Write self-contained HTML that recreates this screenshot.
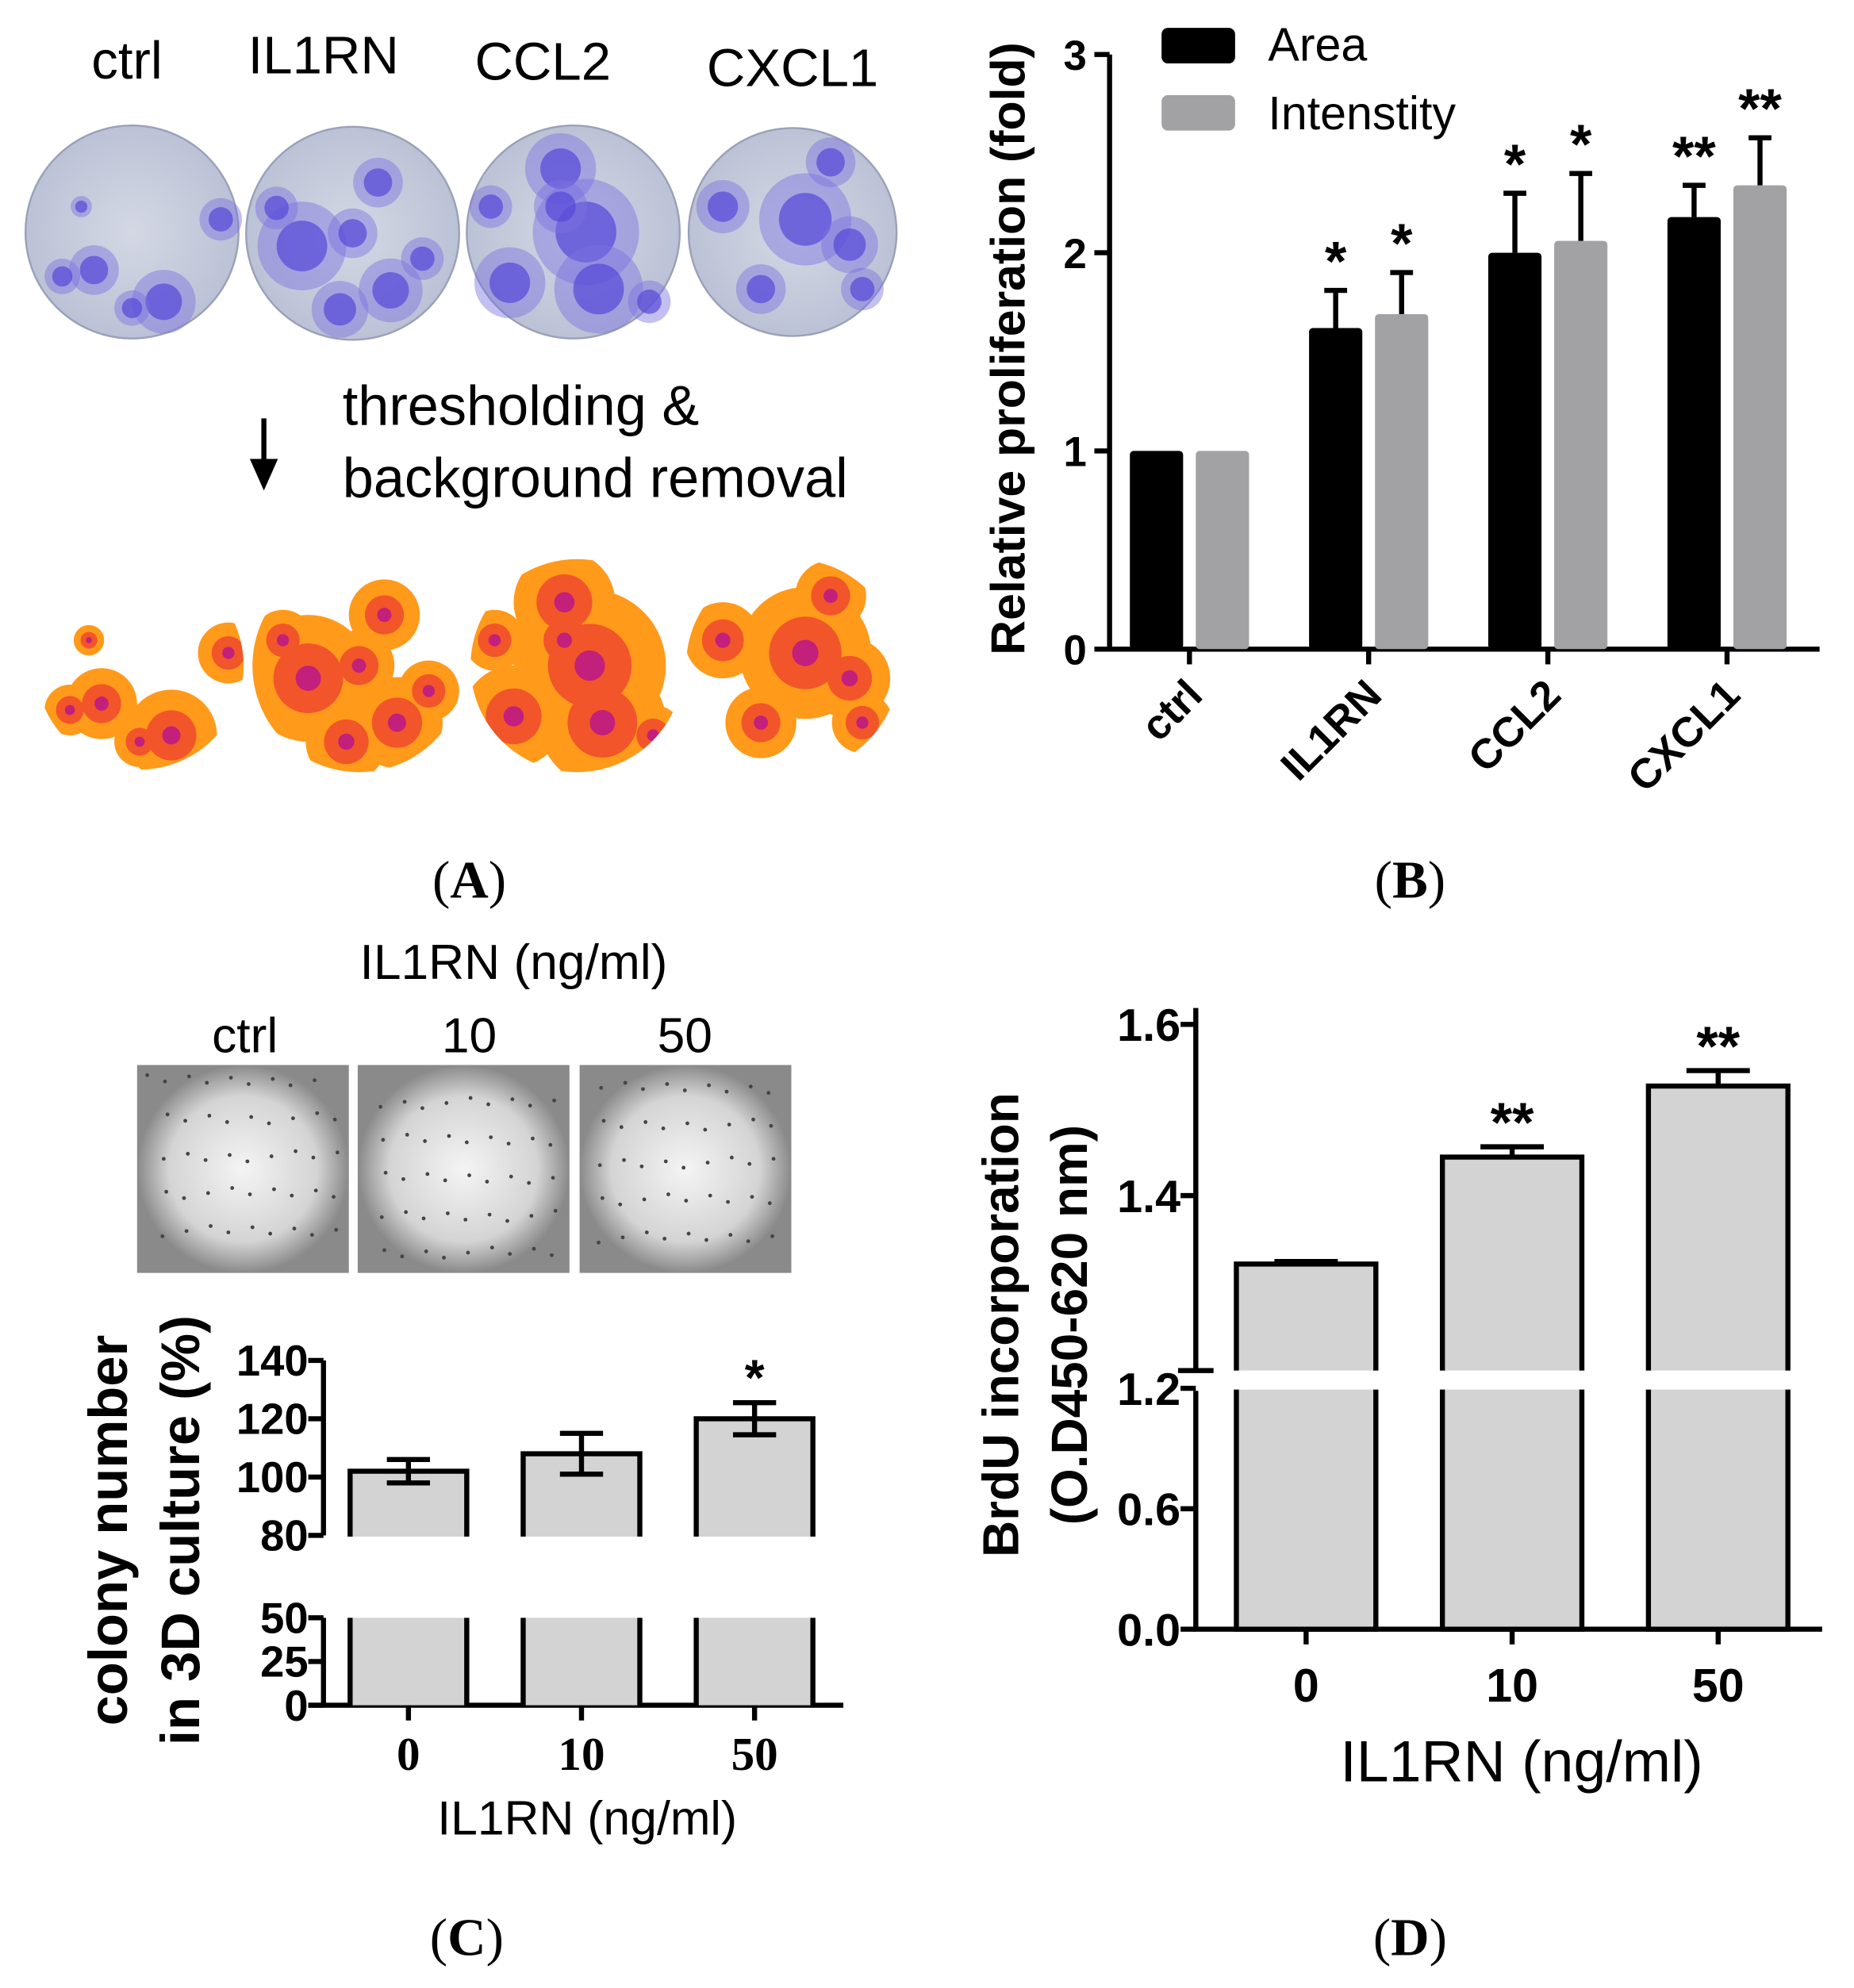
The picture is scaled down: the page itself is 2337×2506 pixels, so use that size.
<!DOCTYPE html>
<html><head><meta charset="utf-8"><style>
html,body{margin:0;padding:0;background:#fff}
svg{display:block}
</style></head><body>
<svg id="fig" width="2337" height="2506" viewBox="0 0 1462 1568" xmlns="http://www.w3.org/2000/svg" font-family="Liberation Sans, sans-serif">
<defs>
<radialGradient id="plateG" cx="50%" cy="50%" r="50%"><stop offset="0" stop-color="#d4d8e4"/><stop offset="1" stop-color="#bcc2d6"/></radialGradient>
<radialGradient id="softG" cx="50%" cy="50%" r="50%"><stop offset="0" stop-color="#f4f4f4"/><stop offset="0.7" stop-color="#d4d4d4"/><stop offset="1" stop-color="#8a8a8a"/></radialGradient>
</defs>
<g id="panelA"></g>
<g id="panelB"></g>
<g id="panelC"></g>
<g id="panelD"></g>
<text x="370" y="708" style="font-family:'Liberation Serif',serif" font-size="42" text-anchor="middle">(<tspan font-weight="bold">A</tspan>)</text>
<text x="1112" y="708" style="font-family:'Liberation Serif',serif" font-size="42" text-anchor="middle">(<tspan font-weight="bold">B</tspan>)</text>
<text x="368" y="1542" style="font-family:'Liberation Serif',serif" font-size="42" text-anchor="middle">(<tspan font-weight="bold">C</tspan>)</text>
<text x="1112" y="1542" style="font-family:'Liberation Serif',serif" font-size="42" text-anchor="middle">(<tspan font-weight="bold">D</tspan>)</text>
</svg>
<script>
const NS="http://www.w3.org/2000/svg";
function mk(parent,tag,attrs,txt){const e=document.createElementNS(NS,tag);for(const k in attrs)e.setAttribute(k,attrs[k]);if(txt!==undefined)e.textContent=txt;parent.appendChild(e);return e;}

// ---------- Panel B data ----------
const bCategories=["ctrl","IL1RN","CCL2","CXCL1"];
const bArea=[1,1.62,2.0,2.18];
const bAreaErr=[0,0.19,0.3,0.16];
const bInt=[1,1.69,2.06,2.34];
const bIntErr=[0,0.21,0.34,0.24];
const bAreaSig=["","*","*","**"];
const bIntSig=["","*","*","**"];
const bTicks=[0,1,2,3];

// ---------- Panel C data ----------
const cCategories=["0","10","50"];
const cValues=[102,108,120];
const cErr=[4,7,5.5];
const cSig=["","","*"];
const cTicksUpper=[80,100,120,140];
const cTicksLower=[0,25,50];

// ---------- Panel D data ----------
const dCategories=["0","10","50"];
const dValues=[1.32,1.445,1.528];
const dErr=[0.003,0.012,0.018];
const dSig=["","**","**"];
const dTicksUpper=[1.4,1.6];
const dTicksLower=[0.0,0.6,1.2];

// ===== Panel A =====
(function(){
 const g=document.getElementById('panelA');
 const labels=[["ctrl",100,62],["IL1RN",255,58],["CCL2",428,63],["CXCL1",625,68]];
 labels.forEach(l=>{const t=mk(g,'text',{x:l[1],y:l[2],'font-size':42,'text-anchor':'middle'},l[0]);
 
 });
 const centers=[[104,183,84],[278,184,84],[452,183,84],[625,183,82]];
 const blobs=[
  [[-30,30,14],[-40,-20,6],[25,55,18],[0,60,10],[70,-10,12],[-55,35,10]],
  [[-40,10,25],[20,-40,14],[30,45,18],[-10,60,16],[55,20,12],[-60,-20,12],[0,0,14]],
  [[-10,-50,20],[10,0,30],[20,45,25],[-50,40,20],[-10,-20,15],[60,55,12],[-65,-20,12]],
  [[10,-10,26],[-25,45,14],[45,10,16],[30,-55,14],[-55,-20,15],[55,45,12]]];
 centers.forEach((c,i)=>{
  const p=mk(g,'circle',{cx:c[0],cy:c[1],r:c[2],fill:'url(#plateG)',stroke:'#9aa0b8','stroke-width':1.5});
  
  
  blobs[i].forEach(b=>{mk(g,'circle',{cx:c[0]+b[0],cy:c[1]+b[1],r:b[2]*1.4,fill:'#7a70e0',opacity:0.45});mk(g,'circle',{cx:c[0]+b[0],cy:c[1]+b[1],r:b[2]*0.8,fill:'#5548d8',opacity:0.7});});
 });
 const ar=mk(g,'path',{d:'M208 330 V372 M200 364 L208 382 L216 364 Z',stroke:'#000','stroke-width':4,fill:'#000'});
 
 
 const t1=mk(g,'text',{x:270,y:335,'font-size':44},'thresholding &');
 
 
 const t2=mk(g,'text',{x:270,y:392,'font-size':44},'background removal');
 
 
 const cy2=525;
 const tc=[[110,cy2,82],[283,cy2,84],[455,cy2,84],[625,cy2,84]];
 tc.forEach((c,i)=>{
  const cl='clipT'+i;
  const cp=mk(g,'clipPath',{id:cl});mk(cp,'circle',{cx:c[0],cy:c[1],r:c[2]});
  const gg=mk(g,'g',{'clip-path':'url(#'+cl+')'});
  
  
  blobs[i].forEach(b=>{mk(gg,'circle',{cx:c[0]+b[0],cy:c[1]+b[1],r:b[2]*2.0,fill:'#ff9a1a'});});
  blobs[i].forEach(b=>{mk(gg,'circle',{cx:c[0]+b[0],cy:c[1]+b[1],r:b[2]*1.1,fill:'#f2552a'});});
  blobs[i].forEach(b=>{mk(gg,'circle',{cx:c[0]+b[0],cy:c[1]+b[1],r:b[2]*0.4,fill:'#c2207a'});});
 });
})();

// ===== Panel B =====
(function(){
 const g=document.getElementById('panelB');
 const x0=875,xEnd=1435,y0=512,yTop=43,vmax=3;
 const Y=v=>y0-(v/vmax)*(y0-yTop);
 const centers=[938,1081,1222,1362];
 const X=i=>centers[0]+i*((centers[3]-centers[0])/3);
 const bw=42;
 const ax=mk(g,'path',{d:`M${x0} ${yTop} V${y0} H${xEnd}`,stroke:'#000','stroke-width':4,fill:'none'});
 
 
 bTicks.forEach(v=>{mk(g,'line',{x1:x0-12,x2:x0,y1:Y(v),y2:Y(v),stroke:'#000','stroke-width':4});
  const t=mk(g,'text',{x:x0-18,y:Y(v)+12,'font-size':33,'font-weight':'bold','text-anchor':'end'},String(v));
  
  });
 bCategories.forEach((c,i)=>{
  const cx=X(i);
  mk(g,'line',{x1:cx,x2:cx,y1:y0,y2:y0+12,stroke:'#000','stroke-width':4});
  const t=mk(g,'text',{x:0,y:0,'font-size':33,'font-weight':'bold','text-anchor':'end',transform:`translate(${cx+12},${y0+38}) rotate(-45)`},c);
  
  
  [[bArea,bAreaErr,bAreaSig,'#000',-bw/2-5,'area'],[bInt,bIntErr,bIntSig,'#a2a2a5',bw/2+5,'intensity']].forEach(s=>{
   const v=s[0][i],bx=cx+s[4]-bw/2;
   const r=mk(g,'rect',{x:bx,y:Y(v),width:bw,height:y0-Y(v),fill:s[3],rx:3});
   
   
   if(s[1][i]>0){const e=Y(v+s[1][i]);mk(g,'path',{d:`M${bx+bw/2} ${Y(v)} V${e} M${bx+bw/2-9} ${e} H${bx+bw/2+9}`,stroke:'#000','stroke-width':4,fill:'none'});}
   if(s[2][i]){const t2=mk(g,'text',{x:bx+bw/2,y:Y(v+s[1][i])-8,'font-size':44,'font-weight':'bold','text-anchor':'middle'},s[2][i]);
    
    }
  });
 });
 const yl=mk(g,'text',{x:0,y:0,'font-size':38,'font-weight':'bold','text-anchor':'middle',transform:'translate(808,275) rotate(-90)'},'Relative proliferation (fold)');
 
 
 const l1=mk(g,'rect',{x:916,y:22,width:58,height:28,rx:5,fill:'#000'});
 
 
 const l2=mk(g,'rect',{x:916,y:75,width:58,height:28,rx:5,fill:'#a2a2a5'});
 
 
 const lt1=mk(g,'text',{x:1000,y:48,'font-size':37},'Area');
 
 
 const lt2=mk(g,'text',{x:1000,y:102,'font-size':37},'Intenstity');
 
 
})();

// ===== Panel C =====
(function(){
 const g=document.getElementById('panelC');
 const tt=mk(g,'text',{x:405,y:772,'font-size':39,'text-anchor':'middle'},'IL1RN (ng/ml)');
 
 
 [["ctrl",193],["10",370],["50",540]].forEach(l=>{const t=mk(g,'text',{x:l[1],y:830,'font-size':39,'text-anchor':'middle'},l[0]);
  
  });
 [108,282,457].forEach((x,i)=>{const r=mk(g,'rect',{x:x,y:840,width:167,height:164,fill:'url(#softG)'});
  
  
  for(let k=0;k<45;k++){mk(g,'circle',{cx:x+8+((k*67+i*31)%151),cy:848+((k*89+i*47)%148),r:1.5,fill:'#444'});}
 });
 const xa=255,xEnd=665;
 const Yu=v=>1211-(v-80)/60*(1211-1073);
 const Yl=v=>1345-v/50*(1345-1276);
 const ax=mk(g,'path',{d:`M${xa} 1073 V1211 M${xa} 1276 V1345 M243 1345 H${xEnd}`,stroke:'#000','stroke-width':4,fill:'none'});
 
 
 const narrow='font-family:"Liberation Sans Narrow","Liberation Sans",sans-serif';
 cTicksUpper.forEach(v=>{mk(g,'line',{x1:xa-12,x2:xa,y1:Yu(v),y2:Yu(v),stroke:'#000','stroke-width':4});
  const t=mk(g,'text',{x:xa-12,y:Yu(v)+12,'font-size':34,'font-weight':'bold','text-anchor':'end',style:narrow},String(v));
  
  });
 cTicksLower.forEach(v=>{mk(g,'line',{x1:xa-12,x2:xa,y1:Yl(v),y2:Yl(v),stroke:'#000','stroke-width':4});
  const t=mk(g,'text',{x:xa-12,y:Yl(v)+12,'font-size':34,'font-weight':'bold','text-anchor':'end',style:narrow},String(v));
  
  });
 const centers=[322,460,595];const bw=92;
 cCategories.forEach((c,i)=>{
  const cx=centers[0]+i*((centers[2]-centers[0])/2);
  const v=cValues[i];
  const r=mk(g,'rect',{x:cx-bw/2,y:Yu(v),width:bw,height:1212-Yu(v),fill:'#d3d3d3'});
  
  
  mk(g,'path',{d:`M${cx-bw/2} 1212 V${Yu(v)} H${cx+bw/2} V1212`,stroke:'#000','stroke-width':4,fill:'none'});
  const r2=mk(g,'rect',{x:cx-bw/2,y:1276,width:bw,height:69,fill:'#d3d3d3'});
  
  
  mk(g,'path',{d:`M${cx-bw/2} 1276 V1345 M${cx+bw/2} 1276 V1345`,stroke:'#000','stroke-width':4,fill:'none'});
  const e1=Yu(v+cErr[i]),e2=Yu(v-cErr[i]);
  mk(g,'path',{d:`M${cx} ${e1} V${e2} M${cx-17} ${e1} H${cx+17} M${cx-17} ${e2} H${cx+17}`,stroke:'#000','stroke-width':4,fill:'none'});
  if(cSig[i]){const s=mk(g,'text',{x:cx,y:e1-6,'font-size':40,'font-weight':'bold','text-anchor':'middle'},cSig[i]);
   
   }
  mk(g,'line',{x1:cx,x2:cx,y1:1345,y2:1357,stroke:'#000','stroke-width':4});
  const t=mk(g,'text',{x:cx,y:1396,'font-size':37,'font-weight':'bold','text-anchor':'middle',style:"font-family:'Liberation Serif',serif"},c);
  
  
 });
 const xt=mk(g,'text',{x:463,y:1447,'font-size':38,'text-anchor':'middle'},'IL1RN (ng/ml)');
 
 
 const y1=mk(g,'text',{x:0,y:0,'font-size':43,'font-weight':'bold','text-anchor':'middle',transform:'translate(100,1207) rotate(-90)'},'colony number');
 
 
 const y2=mk(g,'text',{x:0,y:0,'font-size':43,'font-weight':'bold','text-anchor':'middle',transform:'translate(157,1207) rotate(-90)'},'in 3D culture (%)');
 
 
})();

// ===== Panel D =====
(function(){
 const g=document.getElementById('panelD');
 const xa=943,xEnd=1437,y0=1285;
 const Yu=v=>808+(1.6-v)/0.2*135;
 const Yl=v=>y0-v/0.6*95;
 const Y=v=>v>=1.21?Yu(v):Yl(v);
 const ax=mk(g,'path',{d:`M${xa} 795 V1081 M${xa} 1097 V${y0} H${xEnd}`,stroke:'#000','stroke-width':4,fill:'none'});
 
 
 dTicksUpper.forEach(v=>{mk(g,'line',{x1:xa-12,x2:xa,y1:Yu(v),y2:Yu(v),stroke:'#000','stroke-width':4});
  const t=mk(g,'text',{x:xa-12,y:Yu(v)+13,'font-size':36,'font-weight':'bold','text-anchor':'end'},v.toFixed(1));
  
  });
 dTicksLower.forEach(v=>{mk(g,'line',{x1:xa-12,x2:xa,y1:Yl(v),y2:Yl(v),stroke:'#000','stroke-width':4});
  const t=mk(g,'text',{x:xa-12,y:Yl(v)+13,'font-size':36,'font-weight':'bold','text-anchor':'end'},v.toFixed(1));
  
  });
 mk(g,'line',{x1:xa-14,x2:xa+14,y1:1081,y2:1081,stroke:'#000','stroke-width':4});
 const centers=[1030,1192,1355];const bw=110;
 dCategories.forEach((c,i)=>{
  const cx=centers[0]+i*((centers[2]-centers[0])/2);
  const v=dValues[i];
  const r=mk(g,'rect',{x:cx-bw/2,y:Y(v),width:bw,height:y0-Y(v),fill:'#d3d3d3',stroke:'#000','stroke-width':4});
  
  
  mk(g,'rect',{x:cx-bw/2-3,y:1081,width:bw+6,height:15,fill:'#fff'});
  const e=Y(v+dErr[i]);
  mk(g,'path',{d:`M${cx} ${Y(v)} V${e} M${cx-25} ${e} H${cx+25}`,stroke:'#000','stroke-width':4,fill:'none'});
  if(dSig[i]){const s=mk(g,'text',{x:cx,y:e-4,'font-size':44,'font-weight':'bold','text-anchor':'middle'},dSig[i]);
   
   }
  mk(g,'line',{x1:cx,x2:cx,y1:y0,y2:y0+12,stroke:'#000','stroke-width':4});
  const t=mk(g,'text',{x:cx,y:1342,'font-size':37,'font-weight':'bold','text-anchor':'middle'},c);
  
  
 });
 const xt=mk(g,'text',{x:1200,y:1405,'font-size':46,'text-anchor':'middle'},'IL1RN (ng/ml)');
 
 
 const y1=mk(g,'text',{x:0,y:0,'font-size':40,'font-weight':'bold','text-anchor':'middle',transform:'translate(803,1045) rotate(-90)'},'BrdU incorporation');
 
 
 const y2=mk(g,'text',{x:0,y:0,'font-size':40,'font-weight':'bold','text-anchor':'middle',transform:'translate(857,1045) rotate(-90)'},'(O.D450-620 nm)');
 
 
})();
</script>
</body></html>
